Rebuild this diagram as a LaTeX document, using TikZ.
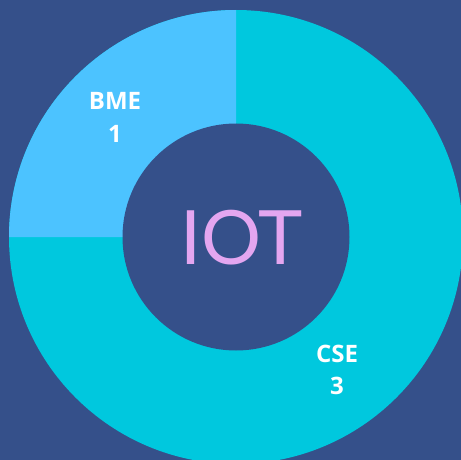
\documentclass[tikz,border=0pt]{standalone}
\usepackage{fontspec}
\setmainfont{Open Sans}
\newfontfamily\iotfont{Lato}
\definecolor{bgblue}{RGB}{53,80,138}
\definecolor{bmeblue}{RGB}{76,195,255}
\definecolor{csecyan}{RGB}{0,200,222}
\definecolor{iotpink}{RGB}{228,166,240}
\tikzset{
  lbl/.style={text=white, font=\bfseries\fontsize{24}{28}\selectfont, align=center, inner sep=0pt},
}
\begin{document}
\begin{tikzpicture}[x=1pt,y=-1pt]
\fill[bgblue] (0,0) rectangle (461,460);
\useasboundingbox (0,0) rectangle (461,460);
\coordinate (c) at (236,237);
\begin{scope}
\clip (0,0) rectangle (461,460);
\fill[csecyan] (c) circle[radius=227];
\fill[bmeblue] (c) -- (236,10) arc[start angle=-90, end angle=-180, radius=227] -- cycle;
\fill[bgblue] (c) circle[radius=113.5];
\end{scope}
\node[inner sep=0pt, text=iotpink, font=\iotfont\fontsize{75}{80}\selectfont] (iot) at (241.5,238) {IOT};
\node[lbl] (bme) at (115,101) {BME};
\node[lbl] (bmen) at (115,134) {1};
\node[lbl] (cse) at (337,354) {CSE};
\node[lbl] (csen) at (337,386) {3};
\end{tikzpicture}
\end{document}
